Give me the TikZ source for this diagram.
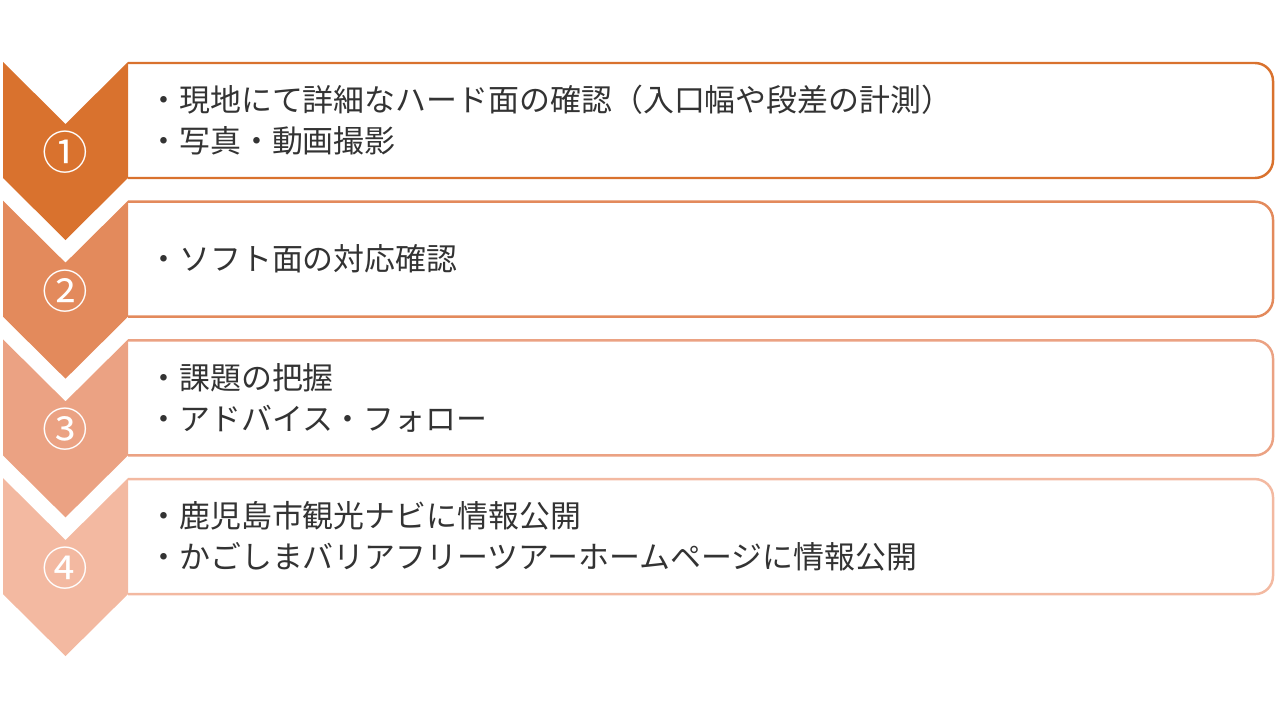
\documentclass[tikz,border=0pt]{standalone}
\usepackage{fontspec}
\setmainfont{Noto Sans CJK JP}
\usetikzlibrary{positioning}

\definecolor{stepA}{HTML}{D9722E}
\definecolor{stepB}{HTML}{E38A5C}
\definecolor{stepC}{HTML}{EBA283}
\definecolor{stepD}{HTML}{F3B9A1}

\begin{document}
\begin{tikzpicture}[x=0.02cm, y=-0.02cm]

\useasboundingbox (0,0) rectangle (1280,720);

% styles
\tikzset{stepbox/.style={line width=1.4pt}} % outline of the text boxes
\tikzset{chev/.style={draw=none}} % chevrons on the left
\tikzset{numtext/.style={inner sep=0, text=white, font=\fontsize{26}{26}\selectfont}} % step numbers
\tikzset{itemtext/.style={anchor=west, align=left, inner sep=0, text=black!80, font=\fontsize{17.6}{23.3}\selectfont}} % bullet lines

% boxes, chevrons and numbers
\foreach \i/\c/\y/\n in {1/stepA/62/①, 2/stepB/200.7/②, 3/stepC/339.4/③, 4/stepD/478.1/④} {
\draw[stepbox, draw=\c] (128,\y+1) [rounded corners=0.36cm] -- (1273,\y+1) -- (1273,\y+116) [sharp corners] -- (128,\y+116); % box
\fill[chev, \c] (3,\y) -- (65.5,\y+62) -- (128,\y) -- (128,\y+116) -- (65.5,\y+178) -- (3,\y+116) -- cycle; % chevron
\node[numtext] (num\i) at (65.5,\y+90) {\n};
\coordinate (box\i) at (148,\y+58.5); % left end of the text
}

% texts
\node[itemtext] (text1) at (box1) {・現地にて詳細なハード面の確認（入口幅や段差の計測）\\・写真・動画撮影};
\node[itemtext] (text2) at (box2) {・ソフト面の対応確認};
\node[itemtext] (text3) at (box3) {・課題の把握\\・アドバイス・フォロー};
\node[itemtext] (text4) at (box4) {・鹿児島市観光ナビに情報公開\\・かごしまバリアフリーツアーホームページに情報公開};

\end{tikzpicture}
\end{document}
